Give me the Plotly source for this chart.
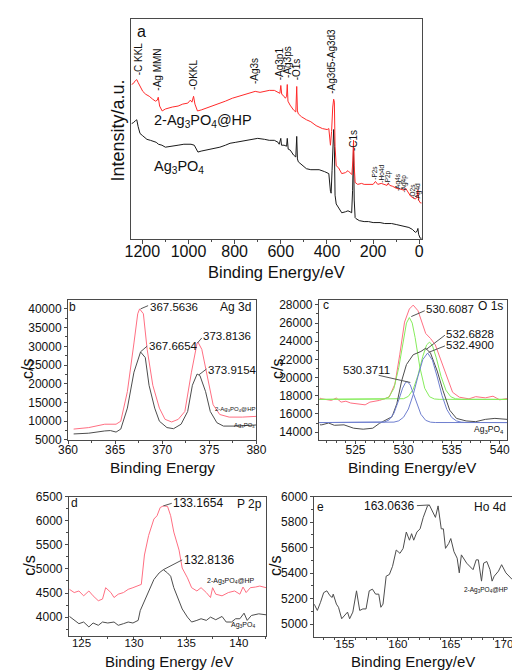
import plotly.graph_objects as go

W, H = 520, 670
FONT = "Liberation Sans, Arial, sans-serif"

# ---------------- Panel a: survey spectra (a.u.) ----------------
a_red_ev = [1247, 1239, 1230, 1224, 1218, 1211, 1198, 1185, 1170, 1155, 1143, 1135, 1131, 1125, 1114,
            1100, 1086, 1070, 1045, 1025, 1003, 992, 985, 978, 972, 961, 945, 920, 900, 880, 864, 840,
            810, 780, 753, 730, 711, 690, 670, 650, 628, 612, 604, 600, 596, 590, 580, 575, 572, 569,
            560, 545, 535, 531, 528, 524, 510, 489, 470, 447, 420, 399, 392, 385, 380, 375, 371, 368,
            365, 360, 350, 336, 320, 309, 300, 292, 288, 285, 282, 278, 267, 250, 239, 220, 200, 190,
            180, 165, 156, 140, 135, 128, 115, 100, 80, 65, 59, 50, 38, 25, 17, 10, 6, 3, -5, -10]
a_red_val = [158, 159, 162, 163, 160, 157, 151, 148, 146, 143, 141, 142, 145, 136, 131,
             133, 134, 135, 136, 138, 139, 142, 140, 146, 138, 131, 132, 134, 136, 138, 139, 141,
             144, 146, 148, 150, 151, 150, 151, 152, 152, 150, 149, 157, 148, 147, 144, 146, 158, 141,
             137, 132, 130, 156, 131, 128, 125, 122, 120, 116, 113, 112, 113, 96, 110, 135, 143, 140,
             95, 75, 73, 67, 68, 70, 68, 66, 80, 101, 75, 58, 56, 57, 56, 56, 56, 59,
             56, 57, 56, 55, 57, 55, 54, 52, 51, 50, 52, 48, 44, 42, 41, 43, 50, 40, 37, 37]

a_blk_ev = [1247, 1239, 1230, 1224, 1218, 1210, 1200, 1190, 1180, 1165, 1150, 1140, 1130, 1115, 1100,
            1080, 1060, 1045, 1020, 1000, 989, 975, 965, 959, 945, 920, 900, 880, 864, 840, 820, 795,
            770, 750, 725, 700, 670, 650, 628, 612, 607, 600, 597, 586, 575, 572, 568, 559, 545, 535,
            531, 528, 524, 510, 489, 470, 450, 434, 410, 392, 385, 382, 378, 374, 371, 368, 365, 360,
            350, 336, 320, 309, 300, 293, 289, 285, 282, 278, 274, 260, 239, 220, 200, 170, 150, 120,
            100, 80, 60, 45, 30, 17, 10, 6, 3, -4, -10]
a_blk_val = [118, 119, 121, 122, 115, 108, 106, 104, 102, 101, 100, 99, 97, 96, 94,
             95, 96, 96, 97, 97, 97, 96, 92, 89, 90, 91, 92, 93, 94, 96, 98, 99,
             100, 101, 102, 103, 102, 101, 101, 99, 97, 103, 96, 96, 95, 103, 92, 91, 86, 84,
             105, 82, 79, 76, 72, 71, 71, 71, 69, 67, 49, 47, 70, 100, 112, 95, 45, 36,
             32, 27, 28, 29, 28, 27, 50, 95, 40, 22, 21, 19, 18, 18, 17, 17, 16, 16,
             15, 14, 13, 12, 10, 7, 8, 11, 5, 1, 1]

a_peak_labels = ["-C KKL", "-Ag MMN", "-OKKL", "-Ag3s", "-Ag3p1", "-Ag3ps", "-O1s", "-Ag3d5-Ag3d3", "-C1s"]
a_peak_ev = [1218, 1135, 978, 714, 607, 572, 531, 378, 285]
a_peak_base = [166, 151, 151, 158, 161, 164, 161, 147, 89]
a_small_labels = ["-P2s", "-Ho4d", "-P2p", "-Ag4s", "-Ag4p", "-O2s", "-Ag4d"]
a_small_ev = [195, 165, 135, 93, 65, 31, 7]
a_small_base = [60, 57, 55, 48, 47, 40, 38]

# ---------------- Panel b: Ag 3d ----------------
b_red_ev = [360.6, 362.2, 363.9, 365.1, 365.6, 366.3, 367.0, 367.4, 367.6, 368.0, 368.4, 369.0, 369.7,
            370.3, 371.0, 371.7, 372.4, 373.1, 373.7, 373.8, 374.2, 374.8, 375.4, 376.1, 377.1, 378.5, 380.0]
b_red_val = [7900, 8300, 9200, 9200, 10000, 17900, 30900, 38700, 40000, 38700, 29200, 19600, 13500,
             10500, 9800, 10500, 12600, 23100, 30900, 31100, 29200, 21300, 14400, 11800, 11100, 11100, 11300]
b_blk_ev = [360.6, 362.2, 363.9, 364.5, 365.1, 365.6, 366.3, 367.0, 367.7, 368.2, 368.6, 369.2, 369.7,
            370.5, 371.2, 372.0, 372.7, 373.2, 373.7, 374.0, 374.6, 375.1, 375.8, 376.5, 377.8, 380.0]
b_blk_val = [6600, 6800, 7400, 7500, 7100, 7900, 13500, 23100, 28500, 27000, 19600, 13500, 10000,
             8300, 8000, 9200, 12600, 19600, 22600, 22200, 17900, 12600, 9600, 8700, 8700, 9000]

# ---------------- Panel c: O 1s ----------------
c_red_ev = [521.3, 521.5, 522.5, 523.0, 523.5, 524.0, 524.5, 525.5, 526.0, 526.5, 527.5, 528.5, 529.1,
            529.6, 530.1, 530.6, 531.0, 531.5, 531.8, 532.3, 532.8, 533.3, 533.8, 534.5, 535.1, 535.8,
            536.8, 537.5, 538.5, 539.3, 540.0, 540.8]
c_red_val = [17740, 17660, 17490, 17750, 17300, 17400, 17200, 17120, 17000, 17300, 17490, 17850, 19280,
             22500, 26100, 27540, 27970, 27350, 26460, 24850, 24300, 23600, 22150, 20000, 18380, 17840,
             17660, 17900, 17770, 17950, 17550, 17700]
c_blk_ev = [521.3, 521.5, 522.2, 522.8, 523.8, 524.8, 525.8, 526.8, 527.5, 528.1, 528.8, 529.3, 529.8,
            530.3, 531.0, 531.8, 532.3, 532.8, 533.5, 534.1, 534.8, 535.5, 536.5, 537.5, 538.5, 539.5, 540.8]
c_blk_val = [14800, 14800, 15000, 14750, 14800, 14430, 14320, 14430, 14970, 15330, 15690, 17120, 19640,
             21430, 22510, 22870, 23230, 22690, 20720, 18570, 16410, 15510, 15230, 15150, 15400, 15510, 15400]
c_g1_ev = [521.2, 527.5, 528.0, 528.5, 529.0, 529.5, 530.0, 530.3, 530.6, 530.9, 531.2, 531.7, 532.2,
           532.7, 533.2, 533.7, 540.8]
c_g1_val = [17600, 17605, 17645, 17890, 18820, 21100, 24400, 25990, 26600, 25990, 24400, 21100, 18820,
            17890, 17645, 17605, 17600]
c_g2_ev = [521.2, 529.5, 530.0, 530.5, 531.0, 531.5, 532.0, 532.4, 532.7, 533.0, 533.4, 533.9, 534.4,
           534.9, 535.4, 536.0, 540.8]
c_g2_val = [17600, 17620, 17675, 17935, 18700, 20265, 22340, 23600, 23900, 23520, 22175, 20110, 18615,
            17900, 17665, 17610, 17600]
c_b1_ev = [521.2, 527.5, 528.0, 528.5, 529.0, 529.5, 529.9, 530.2, 530.4, 530.7, 531.0, 531.4, 531.8,
           532.3, 532.8, 533.3, 540.8]
c_b1_val = [15050, 15057, 15106, 15343, 16090, 17543, 18835, 19450, 19550, 19180, 18350, 17015, 15960,
            15295, 15095, 15055, 15050]
c_b2_ev = [521.2, 529.0, 529.5, 530.0, 530.5, 531.0, 531.5, 532.0, 532.5, 533.0, 533.5, 534.0, 534.5,
           535.0, 535.5, 536.0, 536.5, 540.8]
c_b2_val = [15050, 15100, 15240, 15640, 16540, 18110, 20150, 21980, 22700, 21920, 20070, 18030, 16490,
            15620, 15230, 15095, 15060, 15050]

# ---------------- Panel d: P 2p ----------------
d_red_ev = [123.85, 124.3, 124.75, 125.2, 125.7, 126.1, 126.6, 127.0, 127.3, 127.8, 128.1, 128.5, 129.0,
            129.45, 129.9, 130.4, 130.7, 131.0, 131.4, 131.9, 132.2, 132.5, 132.8, 133.2, 133.5, 133.8,
            134.3, 134.6, 135.1, 135.5, 136.0, 136.4, 136.9, 137.3, 137.5, 137.8, 138.4, 139.0, 139.6,
            140.1, 140.4, 140.7, 141.1, 141.6, 142.0, 142.6]
d_red_val = [4577, 4510, 4543, 4442, 4543, 4442, 4340, 4375, 4611, 4510, 4407, 4476, 4510,
             4577, 4611, 4645, 4679, 5290, 5697, 6037, 6105, 6275, 6309, 6300, 6105, 5766,
             5392, 5019, 4815, 4611, 4543, 4611, 4510, 4407, 4611, 4476, 4442, 4510, 4543,
             4476, 4625, 4510, 4611, 4625, 4645, 4611]
d_blk_ev = [123.85, 124.3, 124.75, 125.2, 125.7, 126.1, 126.6, 127.0, 127.5, 128.1, 128.5, 129.0, 129.45,
            129.9, 130.4, 130.6, 131.0, 131.4, 131.9, 132.4, 132.8, 133.2, 133.5, 133.8, 134.3, 134.6,
            135.1, 135.5, 136.0, 136.4, 136.9, 137.3, 137.8, 138.4, 138.8, 139.3, 139.7, 140.1, 140.5,
            140.8, 141.2, 141.9, 142.6]
d_blk_val = [4014, 3932, 3864, 3898, 3796, 3878, 3830, 3898, 3878, 3898, 3830, 3864, 3898,
             3878, 3932, 4136, 4340, 4543, 4781, 4917, 4985, 4917, 4849, 4611, 4340, 4170,
             4000, 3898, 3932, 3966, 3932, 4000, 3946, 4014, 3898, 3898, 3966, 3966, 4082,
             3932, 4034, 4068, 4048]

# ---------------- Panel e: Ho 4d ----------------
e_ev = [152.1, 152.4, 152.7, 153.0, 153.3, 153.6, 153.8, 153.9, 154.2, 154.4, 154.7, 155.0, 155.25,
        155.45, 155.75, 156.1, 156.4, 156.7, 157.0, 157.3, 157.6, 157.9, 158.2, 158.4, 158.6, 158.9,
        159.2, 159.5, 159.85, 160.2, 160.5, 160.8, 161.1, 161.3, 161.5, 161.8, 162.1, 162.4, 162.8,
        162.97, 163.3, 163.55, 163.8, 164.1, 164.3, 164.5, 164.8, 165.0, 165.3, 165.6, 165.8, 166.0,
        166.5, 167.1, 167.4, 167.6, 167.9, 168.1, 168.4, 168.7, 168.9, 169.1, 169.5, 169.8, 170.2, 170.8]
e_val = [5158, 5108, 5172, 5248, 5262, 5223, 5210, 5236, 5158, 5133, 5043, 5069, 5095,
         5043, 5095, 5262, 5108, 5120, 5120, 5262, 5275, 5236, 5236, 5133, 5158, 5377,
         5390, 5454, 5582, 5556, 5595, 5723, 5659, 5710, 5659, 5723, 5748, 5838, 5928,
         5936, 5877, 5838, 5928, 5748, 5748, 5595, 5633, 5672, 5569, 5518, 5403, 5544,
         5479, 5428, 5505, 5505, 5338, 5479, 5492, 5428, 5338, 5377, 5416, 5467, 5403, 5351]

# ---------------- colours ----------------
RED_A = "#ff2a2a"
BLK_A = "#1a1a1a"
RED = "#ff6f82"
GREY = "#4d4d4d"
GREEN = "#86ec5c"
BLUE = "#6f7fcf"
AX = "#4a4a4a"


def px2x(px):
    return px / W


def py2y(py):
    return 1 - py / H


fig = go.Figure()

def line(x, y, color, xa, ya, width=1.0):
    fig.add_trace(go.Scatter(x=x, y=y, mode="lines", line=dict(color=color, width=width),
                             xaxis=xa, yaxis=ya, showlegend=False, hoverinfo="skip"))

line(a_blk_ev, a_blk_val, BLK_A, "x", "y")
line(a_red_ev, a_red_val, RED_A, "x", "y")
line(b_red_ev, b_red_val, RED, "x2", "y2")
line(b_blk_ev, b_blk_val, GREY, "x2", "y2")
line(c_red_ev, c_red_val, RED, "x3", "y3")
line(c_g1_ev, c_g1_val, GREEN, "x3", "y3")
line(c_g2_ev, c_g2_val, GREEN, "x3", "y3")
line(c_blk_ev, c_blk_val, GREY, "x3", "y3")
line(c_b1_ev, c_b1_val, BLUE, "x3", "y3")
line(c_b2_ev, c_b2_val, BLUE, "x3", "y3")
line(d_red_ev, d_red_val, RED, "x4", "y4")
line(d_blk_ev, d_blk_val, GREY, "x4", "y4")
line(e_ev, e_val, GREY, "x5", "y5")

def xaxis_common(tsize, standoff=-3):
    return dict(showline=True, linecolor=AX, linewidth=1, mirror=True, ticks="outside",
                ticklen=3, tickcolor=AX, showgrid=False, zeroline=False,
                ticklabelstandoff=standoff,
                tickfont=dict(family=FONT, size=tsize, color="#111"))

def yaxis_common(tsize):
    return dict(showline=True, linecolor=AX, linewidth=1, mirror=True, ticks="outside",
                ticklen=3, tickcolor=AX, showgrid=False, zeroline=False, tickformat="d",
                tickfont=dict(family=FONT, size=tsize, color="#111"))

layout = dict(width=W, height=H, margin=dict(l=0, r=0, t=0, b=0),
              paper_bgcolor="white", plot_bgcolor="white", showlegend=False,
              font=dict(family=FONT, color="#111"))

MIN = lambda d: dict(dtick=d, ticks="outside", ticklen=2, tickcolor=AX)

# panel a
layout["xaxis"] = dict(xaxis_common(16, -6), domain=[px2x(118), px2x(420)], range=[1247, -11],
                       anchor="y", dtick=200, tick0=0, ticklen=4, minor=MIN(100))
layout["yaxis"] = dict(yaxis_common(12), domain=[py2y(229), py2y(4)], range=[0, 225], anchor="x",
                       showticklabels=False, ticks="")
# panel b
layout["xaxis2"] = dict(xaxis_common(12, -4), domain=[px2x(52), px2x(248)], range=[360, 380], anchor="y2",
                        dtick=5, minor=MIN(2.5))
layout["yaxis2"] = dict(yaxis_common(12), domain=[py2y(434), py2y(291)], range=[5000, 42400], anchor="x2",
                        dtick=5000, tick0=0, minor=MIN(2500))
# panel c
layout["xaxis3"] = dict(xaxis_common(12, -4), domain=[px2x(313), px2x(509)], range=[521.2, 540.8], anchor="y3",
                        dtick=5, tick0=0, minor=MIN(1))
layout["yaxis3"] = dict(yaxis_common(12), domain=[py2y(434), py2y(291)], range=[13140, 28540], anchor="x3",
                        dtick=2000, tick0=0, minor=MIN(1000))
# panel d
layout["xaxis4"] = dict(xaxis_common(11.5, -7), domain=[px2x(53), px2x(258)], range=[123.8, 142.6], anchor="y4",
                        dtick=5, tick0=0, minor=MIN(2.5))
layout["yaxis4"] = dict(yaxis_common(12), domain=[py2y(634), py2y(492)], range=[3613, 6500], anchor="x4",
                        dtick=500, tick0=0, minor=MIN(250))
# panel e
layout["xaxis5"] = dict(xaxis_common(11.5, -7), domain=[px2x(308), px2x(514)], range=[152.1, 170.8], anchor="y5",
                        dtick=5, tick0=0, minor=MIN(1))
layout["yaxis5"] = dict(yaxis_common(12), domain=[py2y(635), py2y(492)], range=[4902, 6000], anchor="x5",
                        dtick=200, tick0=0, minor=MIN(100))

fig.update_layout(**layout)

ann = []
shapes = []

def txt(text, x, y, size, xref="paper", yref="paper", xanchor="center", yanchor="middle", angle=0, color="#111"):
    ann.append(dict(text=text, x=x, y=y, xref=xref, yref=yref, xanchor=xanchor, yanchor=yanchor,
                    showarrow=False, textangle=angle, borderpad=0,
                    font=dict(family=FONT, size=size, color=color)))

def seg(x0, y0, x1, y1, xref, yref, color="#555"):
    shapes.append(dict(type="line", x0=x0, y0=y0, x1=x1, y1=y1, xref=xref, yref=yref,
                       line=dict(color=color, width=1)))

SAMPLE = "2-Ag<sub>3</sub>PO<sub>4</sub>@HP"
BARE = "Ag<sub>3</sub>PO<sub>4</sub>"

# ---- panel a texts
txt("a", px2x(128), py2y(17), 16)
txt(SAMPLE, px2x(140), py2y(108), 14.5, xanchor="left")
txt(BARE, px2x(140), py2y(155), 14.5, xanchor="left")
for lab, ev, base in zip(a_peak_labels, a_peak_ev, a_peak_base):
    txt(lab, ev, base, 10, xref="x", yref="y", xanchor="center", yanchor="bottom", angle=-90)
for lab, ev, base in zip(a_small_labels, a_small_ev, a_small_base):
    txt(lab, ev, base, 6.5, xref="x", yref="y", xanchor="center", yanchor="bottom", angle=-90)
txt("Binding Energy/eV", px2x(269), py2y(262), 16.5)
txt("Intensity/a.u.", px2x(104), py2y(118), 18, angle=-90)

# ---- panel b texts
txt("b", px2x(57), py2y(298), 12)
txt("Ag 3d", px2x(243), py2y(298), 12, xanchor="right")
seg(367.7, 40000, 368.5, 40870, "x2", "y2")
txt("367.5636", 368.6, 40600, 11.5, "x2", "y2", xanchor="left")
seg(367.68, 28500, 368.4, 30060, "x2", "y2")
txt("367.6654", 368.47, 30200, 11.5, "x2", "y2", xanchor="left")
seg(373.74, 30900, 374.2, 32250, "x2", "y2")
txt("373.8136", 374.25, 32800, 11.5, "x2", "y2", xanchor="left")
seg(373.9, 22400, 374.7, 23950, "x2", "y2")
txt("373.9154", 374.76, 23800, 11.5, "x2", "y2", xanchor="left")
txt(SAMPLE, 380, 13170, 6, "x2", "y2", xanchor="right")
txt(BARE, 380, 8730, 6, "x2", "y2", xanchor="right")
txt("c/s", px2x(10), py2y(362), 16, angle=-90)
txt("Binding Energy", px2x(150), py2y(462), 15.5)

# ---- panel c texts
txt("c", px2x(320), py2y(296), 12)
txt("O 1s", px2x(505), py2y(297), 12, xanchor="right")
seg(530.8, 26710, 532.2, 27350, "x3", "y3")
txt("530.6087", 532.2, 27540, 11.5, "x3", "y3", xanchor="left")
seg(532.3, 23050, 534.3, 24660, "x3", "y3")
txt("532.6828", 534.3, 24770, 11.5, "x3", "y3", xanchor="left")
seg(532.6, 22770, 534.3, 23480, "x3", "y3")
txt("532.4900", 534.3, 23590, 11.5, "x3", "y3", xanchor="left")
seg(530.7, 19460, 527.4, 20250, "x3", "y3")
txt("530.3711", 526.1, 20830, 11.5, "x3", "y3", xanchor="center")
txt(SAMPLE, 540.9, 19030, 9.5, "x3", "y3", xanchor="right")
txt(BARE, 540.5, 14290, 8.5, "x3", "y3", xanchor="right")
txt("c/s", px2x(270), py2y(362), 16, angle=-90)
txt("Binding Energy/eV", px2x(410), py2y(462), 15.5)

# ---- panel d texts
txt("d", px2x(59), py2y(498), 12)
txt("P 2p", px2x(255), py2y(499), 12, xanchor="right")
seg(132.8, 6309, 133.6, 6363, "x4", "y4")
txt("133.1654", 133.65, 6363, 12, "x4", "y4", xanchor="left")
seg(132.8, 4985, 134.6, 5188, "x4", "y4")
txt("132.8136", 134.65, 5182, 12, "x4", "y4", xanchor="left")
txt(SAMPLE, 141.6, 4754, 7, "x4", "y4", xanchor="right")
txt(BARE, 141.6, 3837, 7, "x4", "y4", xanchor="right")
txt("c/s", px2x(12), py2y(563), 16, angle=-90)
txt("Binding Energy /eV", px2x(157), py2y(660), 15)

# ---- panel e texts
txt("e", px2x(315), py2y(503), 12)
txt("Ho 4d", px2x(509), py2y(502), 12, xanchor="right")
seg(161.8, 5930, 162.9, 5935, "x5", "y5")
txt("163.0636", 161.6, 5925, 12, "x5", "y5", xanchor="right")
txt(SAMPLE, 170.45, 5272, 6.5, "x5", "y5", xanchor="right")
txt("c/s", px2x(268), py2y(563), 16, angle=-90)
txt("Binding Energy/eV", px2x(411), py2y(660), 15)

fig.update_layout(annotations=ann, shapes=shapes)
fig.write_html("out.html")
